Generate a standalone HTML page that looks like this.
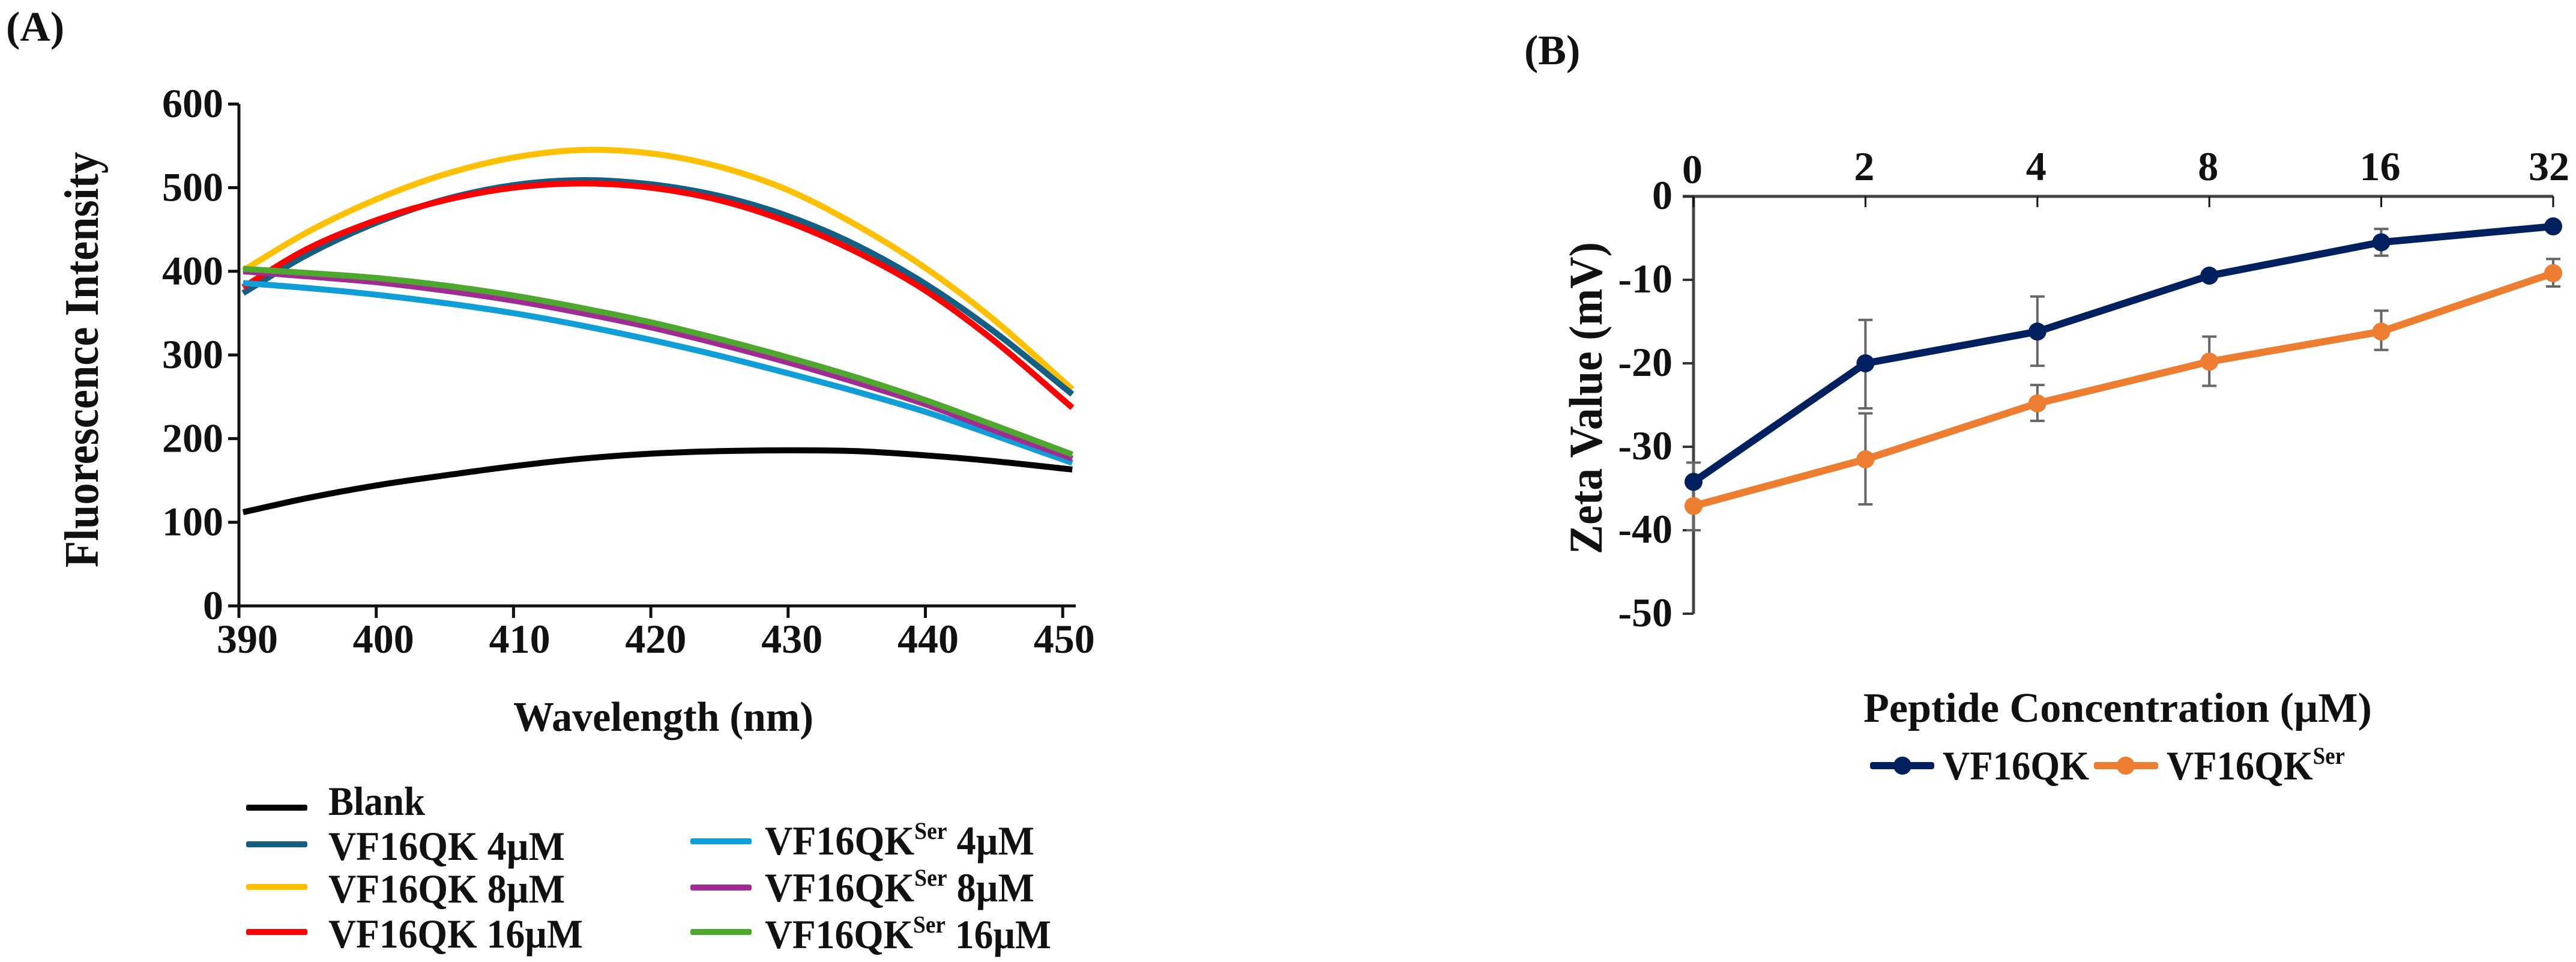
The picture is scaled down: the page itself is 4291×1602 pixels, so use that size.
<!DOCTYPE html>
<html lang="en">
<head>
<meta charset="utf-8">
<title>Fluorescence intensity and zeta value charts</title>
<style>
html,body{margin:0;padding:0;background:#fff;width:4291px;height:1602px;overflow:hidden}
svg{display:block}
text{font-family:"Liberation Serif",serif;font-weight:bold;fill:#111}
</style>
</head>
<body>
<svg id="fig" width="4291" height="1602" viewBox="0 0 4291 1602" xmlns="http://www.w3.org/2000/svg">
  <rect x="0" y="0" width="4291" height="1602" fill="#fff"/>
  <text x="10" y="68" font-size="70">(A)</text>
  <text x="2539" y="107" font-size="70">(B)</text>

  <g id="chartA"></g>
  <text transform="translate(163,945) rotate(-90)" x="0" y="0" font-size="80" textLength="692" lengthAdjust="spacingAndGlyphs">Fluorescence Intensity</text>
  <text x="855" y="1217" font-size="70" textLength="500" lengthAdjust="spacingAndGlyphs">Wavelength (nm)</text>

  <g>
    <rect x="410" y="1340" width="102" height="10" rx="3" fill="#000"/>
    <text x="547" y="1357" font-size="68" textLength="161" lengthAdjust="spacingAndGlyphs">Blank</text>
    <rect x="410" y="1401" width="102" height="10" rx="3" fill="#156082"/>
    <text x="547" y="1432" font-size="68" textLength="394" lengthAdjust="spacingAndGlyphs">VF16QK 4µM</text>
    <rect x="410" y="1472" width="102" height="10" rx="3" fill="#ffc000"/>
    <text x="547" y="1503" font-size="68" textLength="394" lengthAdjust="spacingAndGlyphs">VF16QK 8µM</text>
    <rect x="410" y="1547" width="102" height="10" rx="3" fill="#ff0000"/>
    <text x="547" y="1578" font-size="68" textLength="424" lengthAdjust="spacingAndGlyphs">VF16QK 16µM</text>

    <rect x="1150" y="1396" width="102" height="10" rx="3" fill="#0f9ed5"/>
    <text x="1274" y="1423" font-size="68" textLength="449" lengthAdjust="spacingAndGlyphs">VF16QK<tspan font-size="40" dy="-26">Ser</tspan><tspan dy="26"> 4µM</tspan></text>
    <rect x="1150" y="1473" width="102" height="10" rx="3" fill="#a02b93"/>
    <text x="1274" y="1501" font-size="68" textLength="449" lengthAdjust="spacingAndGlyphs">VF16QK<tspan font-size="40" dy="-26">Ser</tspan><tspan dy="26"> 8µM</tspan></text>
    <rect x="1150" y="1547" width="102" height="10" rx="3" fill="#4ea72e"/>
    <text x="1274" y="1579" font-size="68" textLength="477" lengthAdjust="spacingAndGlyphs">VF16QK<tspan font-size="40" dy="-26">Ser</tspan><tspan dy="26"> 16µM</tspan></text>
  </g>

  <g id="chartB"></g>
  <text transform="translate(2668,923) rotate(-90)" x="0" y="0" font-size="78" textLength="520" lengthAdjust="spacingAndGlyphs">Zeta Value (mV)</text>
  <text x="3104" y="1202" font-size="70" textLength="847" lengthAdjust="spacingAndGlyphs">Peptide Concentration (µM)</text>

  <g>
    <rect x="3115" y="1269" width="107" height="12" rx="4" fill="#002060"/>
    <circle cx="3169" cy="1275" r="15" fill="#002060"/>
    <text x="3236" y="1298" font-size="68" textLength="244" lengthAdjust="spacingAndGlyphs">VF16QK</text>
    <rect x="3488" y="1269" width="107" height="12" rx="4" fill="#ed7d31"/>
    <circle cx="3541" cy="1275" r="15" fill="#ed7d31"/>
    <text x="3609" y="1298" font-size="68" textLength="297" lengthAdjust="spacingAndGlyphs">VF16QK<tspan font-size="40" dy="-26">Ser</tspan></text>
  </g>
</svg>

<script>
// ---------- Panel A data ----------
var wavelengths = [390.3, 395, 400, 405, 410, 415, 420, 425, 430, 435, 440, 445, 450.7];
var blankValues = [112, 129, 144, 156, 167, 176, 182, 185, 186, 185, 180, 173, 163];
var vf4Values = [374, 420, 458, 486, 503, 509, 504, 490, 466, 431, 385, 328, 253];
var vf8Values = [401, 447, 486, 516, 536, 545, 541, 525, 497, 455, 404, 342, 259];
var vf16Values = [381, 427, 461, 485, 500, 505, 500, 485, 459, 423, 377, 317, 237];
var ser4Values = [386, 380, 372, 362, 350, 335, 318, 299, 278, 256, 232, 204, 171];
var ser8Values = [400, 394, 387, 377, 365, 350, 333, 313, 291, 267, 241, 210, 176];
var ser16Values = [403, 398, 392, 383, 371, 356, 339, 319, 297, 273, 246, 216, 181];
var wavelengthTicks = [390, 400, 410, 420, 430, 440, 450];
var intensityTicks = [0, 100, 200, 300, 400, 500, 600];

// ---------- Panel B data ----------
var concentrationLabels = ["0", "2", "4", "8", "16", "32"];
var zetaTicks = [0, -10, -20, -30, -40, -50];
var vfZeta = [-34.2, -20.0, -16.2, -9.5, -5.5, -3.6];
var vfErrTop = [-31.9, -14.8, -12.0, -9.5, -3.9, -3.6];
var vfErrBottom = [-36.5, -25.4, -20.3, -9.5, -7.1, -3.6];
var serZeta = [-37.1, -31.5, -24.8, -19.8, -16.2, -9.2];
var serErrTop = [-37.1, -26.0, -22.6, -16.8, -13.7, -7.5];
var serErrBottom = [-40.0, -36.9, -26.9, -22.7, -18.4, -10.8];

// ---------- Axis functions ----------
function xA(v) { return 398 + (v - 390) * 22.87; }
function xALabel(v) { return 412 + (v - 390) * 22.68; }
function yA(v) { return 1009 - v * 1.393; }
function xB(i) { return 2821 + i * 286.4; }
function yB(v) { return 327 - v * 13.9; }

var NS = "http://www.w3.org/2000/svg";
function mk(parent, tag, attrs, txt) {
  var el = document.createElementNS(NS, tag);
  for (var k in attrs) { el.setAttribute(k, attrs[k]); }
  if (txt !== undefined) { el.textContent = txt; }
  parent.appendChild(el);
  return el;
}
function smoothPath(xs, ys) {
  var d = "M" + xs[0].toFixed(1) + " " + ys[0].toFixed(1);
  for (var i = 0; i < xs.length - 1; i++) {
    var p = Math.max(i - 1, 0), n = Math.min(i + 2, xs.length - 1);
    var h = xs[i + 1] - xs[i];
    var m0 = (ys[i + 1] - ys[p]) / (xs[i + 1] - xs[p]);
    var m1 = (ys[n] - ys[i]) / (xs[n] - xs[i]);
    d += "C" + (xs[i] + h / 3).toFixed(1) + " " + (ys[i] + m0 * h / 3).toFixed(1) + " " +
         (xs[i + 1] - h / 3).toFixed(1) + " " + (ys[i + 1] - m1 * h / 3).toFixed(1) + " " +
         xs[i + 1].toFixed(1) + " " + ys[i + 1].toFixed(1);
  }
  return d;
}

// ---------- Draw panel A ----------
var gA = document.getElementById("chartA");
var axA = mk(gA, "path", {d: "M" + xA(390) + " " + yA(600) + "V" + yA(0) + "M" + xA(390) + " " + yA(0) + "H1792", fill: "none", stroke: "#111", "stroke-width": 5});



intensityTicks.forEach(function (v) {
  var t = mk(gA, "line", {x1: 380, x2: xA(390), y1: yA(v), y2: yA(v), stroke: "#111", "stroke-width": 5});
  
  
  var l = mk(gA, "text", {x: 372, y: yA(v) + 22, "font-size": 68, "text-anchor": "end"}, String(v));
  
  
});
wavelengthTicks.forEach(function (v) {
  var t = mk(gA, "line", {x1: xA(v), x2: xA(v), y1: yA(0), y2: yA(0) + 20, stroke: "#111", "stroke-width": 5});
  
  
  var l = mk(gA, "text", {x: xALabel(v), y: 1087, "font-size": 68, "text-anchor": "middle"}, String(v));
  
  
});

function drawCurve(values, color, name) {
  var p = mk(gA, "path", {d: smoothPath(wavelengths.map(xA), values.map(yA)), fill: "none", stroke: color, "stroke-width": 10});
  
  
}
drawCurve(blankValues, "#000000", "curve-blank");
drawCurve(vf8Values, "#ffc000", "curve-vf16qk-8");
drawCurve(vf4Values, "#156082", "curve-vf16qk-4");
drawCurve(vf16Values, "#ff0000", "curve-vf16qk-16");
drawCurve(ser4Values, "#0f9ed5", "curve-ser-4");
drawCurve(ser8Values, "#a02b93", "curve-ser-8");
drawCurve(ser16Values, "#4ea72e", "curve-ser-16");

// ---------- Draw panel B ----------
var gB = document.getElementById("chartB");
var axB = mk(gB, "path", {d: "M2803 " + yB(0) + "H" + xB(5) + "M" + xB(0) + " " + yB(0) + "V" + yB(-50), fill: "none", stroke: "#444", "stroke-width": 5});



zetaTicks.forEach(function (v) {
  var t = mk(gB, "line", {x1: 2803, x2: xB(0), y1: yB(v), y2: yB(v), stroke: "#333", "stroke-width": 4});
  
  
  var l = mk(gB, "text", {x: 2786, y: yB(v) + 21, "font-size": 68, "text-anchor": "end"}, String(v));
  
  
});
concentrationLabels.forEach(function (c, i) {
  var t = mk(gB, "line", {x1: xB(i), x2: xB(i), y1: yB(0), y2: yB(0) + 18, stroke: "#111", "stroke-width": 3});
  
  
  var l = mk(gB, "text", {x: xB(i) - (i === 5 ? 7 : 2), y: i === 0 ? 305 : 300, "font-size": 68, "text-anchor": "middle"}, c);
  
  
});

function drawErrors(tops, bottoms, name) {
  tops.forEach(function (top, i) {
    var x = xB(i), y1 = yB(top), y2 = yB(bottoms[i]);
    if (y2 - y1 < 1) { return; }
    var e = mk(gB, "path", {d: "M" + x + " " + y1 + "V" + y2 + "M" + (x - 12) + " " + y1 + "H" + (x + 12) + "M" + (x - 12) + " " + y2 + "H" + (x + 12), fill: "none", stroke: "#666", "stroke-width": 4});
    
    
  });
}
function drawSeries(values, color, name) {
  var pts = values.map(function (v, i) { return xB(i) + "," + yB(v); }).join(" ");
  var pl = mk(gB, "polyline", {points: pts, fill: "none", stroke: color, "stroke-width": 12, "stroke-linejoin": "round"});
  
  
  values.forEach(function (v, i) {
    var c = mk(gB, "circle", {cx: xB(i), cy: yB(v), r: 15, fill: color});
    
    
  });
}
drawErrors(vfErrTop, vfErrBottom, "vf16qk-error-bar");
drawErrors(serErrTop, serErrBottom, "ser-error-bar");
drawSeries(vfZeta, "#002060", "vf16qk");
drawSeries(serZeta, "#ed7d31", "ser");
</script>
</body>
</html>
